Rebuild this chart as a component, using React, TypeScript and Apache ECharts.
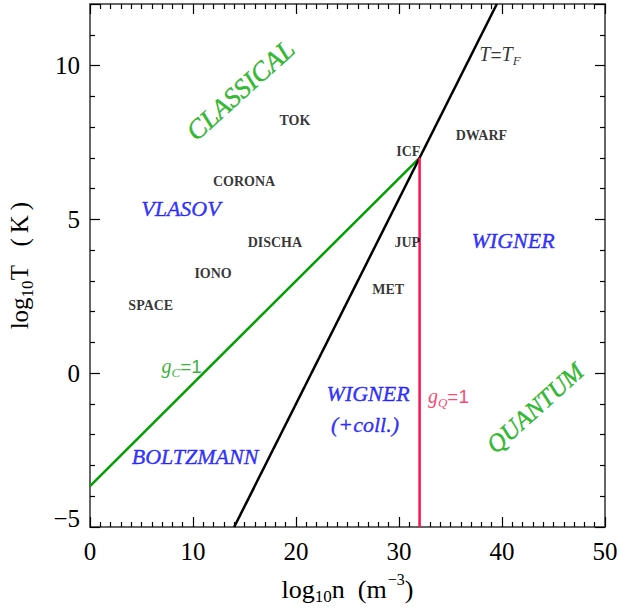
import React, { useEffect, useRef } from "react";
import * as echarts from "echarts";

// ---- data ----
const xTicks = [0, 10, 20, 30, 40, 50];
const yTicks = [-5, 0, 5, 10];
const yMax = 12;

// g_C = 1 (classical coupling) line: log T vs log n
const classicalLineN = [0, 32];
const classicalLineT = [-3.67, 7];
// T = T_F (Fermi temperature) line
const fermiLineN = [14, 39.5];
const fermiLineT = [-5, 12];
// g_Q = 1 (quantum coupling) line
const quantumLineN = [32, 32];
const quantumLineT = [-5, 7];

// plasma examples
const plasmaNames = ["TOK", "ICF", "DWARF", "CORONA", "DISCHA", "JUP", "IONO", "MET", "SPACE"];
const plasmaLogN = [19.9, 30.9, 38.0, 14.95, 17.95, 30.8, 11.95, 28.95, 5.9];
const plasmaLogT = [8.2, 7.2, 7.72, 6.24, 4.24, 4.24, 3.23, 2.71, 2.2];

// regime labels
const regimeNames = ["CLASSICAL", "VLASOV", "WIGNER", "WIGNER", "(+coll.)", "BOLTZMANN", "QUANTUM"];
const regimeLogN = [14.6, 8.83, 41.07, 27.0, 26.7, 10.2, 43.2];
const regimeLogT = [9.2, 5.35, 4.31, -0.67, -1.68, -2.71, -1.13];
const regimeKind = ["q", "b", "b", "b", "b", "b", "q"];

// curve labels
const curveLabelNames = ["gC", "TF", "gQ"];
const curveLabelN = [8.9, 39.8, 34.8];
const curveLabelT = [0.17, 10.3, -0.8];

const SERIF = "'Liberation Serif', 'DejaVu Serif', serif";
const SANS = "'Liberation Sans', Arial, sans-serif";
const GREEN_LINE = "#00a000";
const GREEN_TEXT = "#00a800";
const BLUE = "#0000ff";
const RED = "#ff1050";

function pairs(xs: number[], ys: number[]) {
  return xs.map((x, i) => [x, ys[i]]);
}

export default function App() {
  const ref = useRef<HTMLDivElement>(null);
  useEffect(() => {
    if (!ref.current) return;
    const chart = echarts.init(ref.current, null, { renderer: "svg" });

    const baseAxisStyle = {
      axisLine: { show: true, onZero: false, lineStyle: { color: "#666", width: 2 } },
      axisTick: { show: true, inside: true, length: 10, lineStyle: { color: "#000", width: 1.2 } },
      minorTick: { show: true, length: 5, lineStyle: { color: "#000", width: 1.2 } },
      splitLine: { show: false },
      minorSplitLine: { show: false },
    };

    const fmt = (v: number) => (v < 0 ? "\u2212" + Math.abs(v) : String(v));
    const yFmt = (v: number) => (v === yTicks[0] ? "{lo|" + fmt(v) + "}" : fmt(v));

    const lineSeries = (data: number[][], color: string) => ({
      type: "line",
      data,
      showSymbol: false,
      symbol: "none",
      lineStyle: { color, width: 2.5 },
      silent: true,
      z: 3,
    });

    const plasmaData = plasmaNames.map((n, i) => ({
      name: n,
      value: [plasmaLogN[i], plasmaLogT[i]],
      label: {
        show: true,
        position: "inside",
        formatter: n,
        color: "#000",
        fontFamily: SERIF,
        fontWeight: "bold",
        fontSize: 14,
      },
    }));

    const regimeData = regimeNames.map((n, i) => {
      const q = regimeKind[i] === "q";
      const c = q ? GREEN_TEXT : BLUE;
      return {
        name: n,
        value: [regimeLogN[i], regimeLogT[i]],
        label: {
          show: true,
          position: "inside",
          formatter: n,
          color: c,
          textBorderColor: c,
          textBorderWidth: 0.4,
          fontFamily: SERIF,
          fontStyle: "italic",
          fontSize: q ? (n === "CLASSICAL" ? 27 : 25) : 22,
          rotate: q ? 42 : 0,
        },
      };
    });

    const curveRich = (color: string) => ({
      i: { fontFamily: SERIF, fontStyle: "italic", fontSize: 20, color, lineHeight: 24, verticalAlign: "top" },
      u: { fontFamily: SANS, fontSize: 19, color, lineHeight: 24, verticalAlign: "top", padding: [1, 0, 0, 0] },
      s: { fontFamily: SERIF, fontStyle: "italic", fontSize: 13, color, verticalAlign: "top", padding: [10, 0, 0, 0] },
    });
    const curveText: Record<string, string> = {
      gC: "{i|g}{s|C}{u|=1}",
      TF: "{i|T}{u|=}{i|T}{s|F}",
      gQ: "{i|g}{s|Q}{u|=1}",
    };
    const curveColor: Record<string, string> = { gC: GREEN_LINE, TF: "#000", gQ: RED };
    const curveData = curveLabelNames.map((n, i) => ({
      name: n,
      value: [curveLabelN[i], curveLabelT[i]],
      label: {
        show: true,
        position: "inside",
        formatter: curveText[n],
        rich: curveRich(curveColor[n]),
        color: curveColor[n],
      },
    }));

    const textScatter = (data: any[]) => ({
      type: "scatter",
      data,
      symbolSize: 1,
      itemStyle: { color: "transparent" },
      silent: true,
      emphasis: { disabled: true },
      z: 5,
    });

    const option: any = {
      animation: false,
      backgroundColor: "#fff",
      grid: { left: 90, right: 14, top: 4, bottom: 86, outerBoundsMode: "none", containLabel: false },
      xAxis: [
        {
          type: "value",
          min: xTicks[0],
          max: xTicks[xTicks.length - 1],
          interval: 10,
          position: "bottom",
          ...baseAxisStyle,
          minorTick: { ...baseAxisStyle.minorTick, splitNumber: 10 },
          axisLabel: {
            show: true,
            margin: 12,
            color: "#000",
            fontFamily: SERIF,
            fontSize: 25,
            formatter: fmt,
          },
          name: "{a|log}{s|10}{a|n  (m}{p|\u22123}{a|)}",
          nameLocation: "middle",
          nameGap: 44,
          nameTextStyle: {
            rich: {
              a: { fontFamily: SERIF, fontSize: 26, color: "#000", verticalAlign: "top", padding: [5, 0, 0, 0] },
              s: { fontFamily: SERIF, fontSize: 17, color: "#000", verticalAlign: "top", padding: [17, 0, 0, 0] },
              p: { fontFamily: SERIF, fontSize: 16, color: "#000", verticalAlign: "top", padding: [0, 0, 0, 1] },
            },
          },
        },
        {
          type: "value",
          min: xTicks[0],
          max: xTicks[xTicks.length - 1],
          interval: 10,
          position: "top",
          ...baseAxisStyle,
          minorTick: { ...baseAxisStyle.minorTick, splitNumber: 10 },
          axisLabel: { show: false },
        },
      ],
      yAxis: [
        {
          type: "value",
          min: yTicks[0],
          max: yMax,
          interval: 5,
          position: "left",
          ...baseAxisStyle,
          minorTick: { ...baseAxisStyle.minorTick, splitNumber: 5 },
          axisLabel: {
            show: true,
            margin: 10,
            color: "#000",
            fontFamily: SERIF,
            fontSize: 25,
            showMaxLabel: false,
            formatter: yFmt,
            rich: {
              lo: { fontFamily: SERIF, fontSize: 25, color: "#000", padding: [0, 0, 18, 0] },
            },
          },
          name: "{a|log}{s|10}{a|T   (\u2009K\u2009)}",
          nameLocation: "middle",
          nameGap: 45,
          nameTextStyle: {
            rich: {
              a: { fontFamily: SERIF, fontSize: 25, color: "#000", lineHeight: 38, verticalAlign: "top" },
              s: { fontFamily: SERIF, fontSize: 17, color: "#000", verticalAlign: "top", padding: [12, 0, 0, 0] },
            },
          },
        },
        {
          type: "value",
          min: yTicks[0],
          max: yMax,
          interval: 5,
          position: "right",
          ...baseAxisStyle,
          minorTick: { ...baseAxisStyle.minorTick, splitNumber: 5 },
          axisLabel: { show: false },
        },
      ],
      series: [
        lineSeries(pairs(classicalLineN, classicalLineT), GREEN_LINE),
        lineSeries(pairs(fermiLineN, fermiLineT), "#000"),
        lineSeries(pairs(quantumLineN, quantumLineT), RED),
        textScatter(plasmaData),
        textScatter(regimeData),
        textScatter(curveData),
      ],
    };

    chart.setOption(option);
    return () => chart.dispose();
  }, []);

  return <div ref={ref} style={{ width: 619, height: 613, position: "absolute", left: 0, top: 0 }} />;
}
